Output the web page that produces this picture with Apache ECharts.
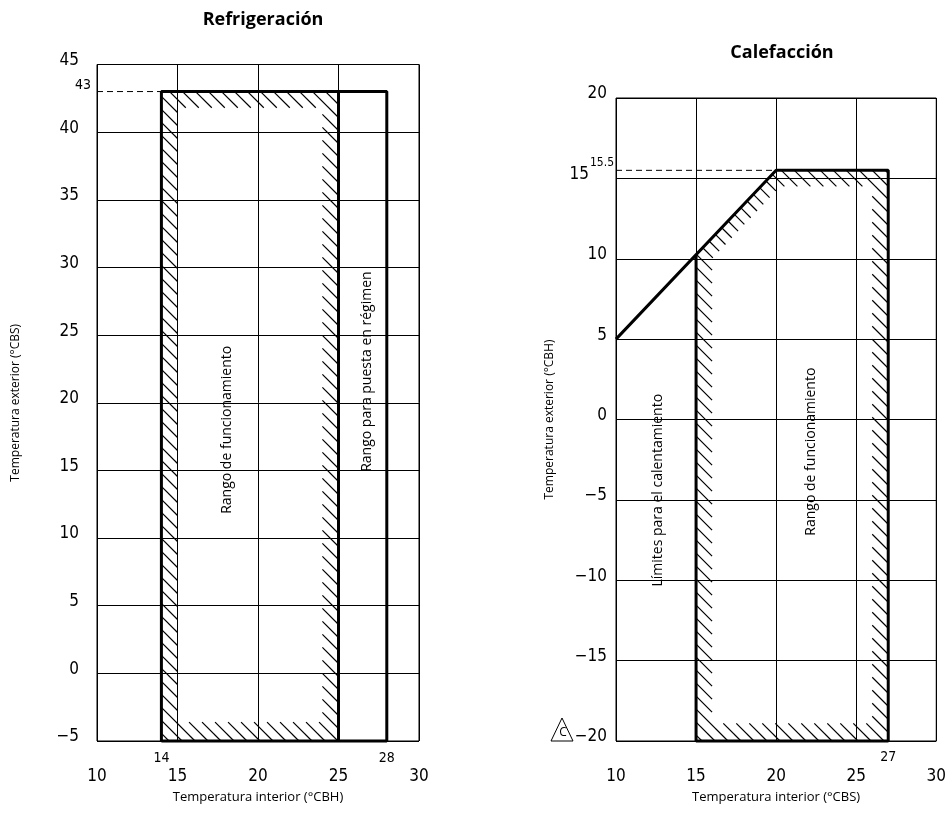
<!DOCTYPE html>
<html>
<head>
<meta charset="utf-8">
<script src="https://cdn.jsdelivr.net/npm/echarts@6/dist/echarts.min.js"></script>
<style>
  html, body { margin: 0; padding: 0; background: #fff; }
  #chart { width: 949px; height: 815px; }
</style>
</head>
<body>
<div id="chart"></div>
<script>
// axis ranges
var xRange = [10, 30];
var coolYRange = [-5, 45];
var heatYRange = [-20, 20];

// Refrigeración: outer limits (run-up range) and operating range with hatch band
var coolRunUp = [[14, -5], [14, 43], [28, 43], [28, -5], [14, -5]];
var coolOpEdge = [[25, 43], [25, -5]];
var coolMaxDash = [[10, 43], [14, 43]];
var coolOuter = [[14, -5], [14, 43], [25, 43], [25, -5]];
var coolInner = [[15, -3.6], [15, 41.8], [24, 41.8], [24, -3.6]];

// Calefacción
var heatLimit = [[10, 5], [20, 15.5], [27, 15.5], [27, -20], [15, -20], [15, 10.25]];
var heatMaxDash = [[10, 15.5], [20, 15.5]];
var heatOuter = [[15, -20], [15, 10.25], [20, 15.5], [27, 15.5], [27, -20]];
var heatInner = [[16, -18.9], [16, 10.0], [20.25, 14.5], [26, 14.5], [26, -18.9]];

var tickFont = "'DejaVu Sans Condensed'";
var textFont = "'Open Sans'";

// clip the line p0 + t*d to a convex polygon (pixels)
function clipConvex(p0, d, poly) {
    var n = poly.length, cx = 0, cy = 0;
    poly.forEach(function(p) { cx += p[0] / n; cy += p[1] / n; });
    var t0 = -Infinity, t1 = Infinity;
    for (var i = 0; i < n; i++) {
        var a = poly[i], b = poly[(i + 1) % n];
        var nx = -(b[1] - a[1]), ny = b[0] - a[0];
        if (nx * (cx - a[0]) + ny * (cy - a[1]) < 0) { nx = -nx; ny = -ny; }
        var num = nx * (p0[0] - a[0]) + ny * (p0[1] - a[1]);
        var den = nx * d[0] + ny * d[1];
        if (den === 0) {
            if (num < 0) return null;
        } else {
            var t = -num / den;
            if (den > 0) t0 = Math.max(t0, t); else t1 = Math.min(t1, t);
        }
    }
    return t0 < t1 ? [t0, t1] : null;
}

function hatchRender(outer, inner) {
    return function(params, api) {
        var po = outer.map(function(p) { return api.coord(p); });
        var pi = inner.map(function(p) { return api.coord(p); });
        var xs = po.map(function(p) { return p[0]; }), ys = po.map(function(p) { return p[1]; });
        var cMin = Math.min.apply(null, xs) - Math.max.apply(null, ys);
        var cMax = Math.max.apply(null, xs) - Math.min.apply(null, ys);
        var d = [1, 1], step = 13, children = [];
        var start = Math.floor(cMin / step) * step;
        for (var c = start; c <= cMax; c += step) {
            var p0 = [c, 0];
            var so = clipConvex(p0, d, po);
            if (!so) continue;
            var si = clipConvex(p0, d, pi);
            var parts = [];
            if (!si || si[1] <= so[0] || si[0] >= so[1]) {
                parts.push(so);
            } else {
                if (si[0] > so[0]) parts.push([so[0], si[0]]);
                if (si[1] < so[1]) parts.push([si[1], so[1]]);
            }
            parts.forEach(function(s) {
                if (s[1] - s[0] < 0.5) return;
                children.push({
                    type: 'line',
                    shape: { x1: p0[0] + s[0], y1: s[0], x2: p0[0] + s[1], y2: s[1] },
                    style: { stroke: '#000', lineWidth: 1.2 }
                });
            });
        }
        return { type: 'group', children: children };
    };
}

// text notes: [x, y, text, rotate, dx, dy, size, align, font]
function notesRender(notes) {
    return function(params, api) {
        var children = notes.map(function(n) {
            var pt = api.coord([n[0], n[1]]);
            return {
                type: 'text',
                x: pt[0] + (n[4] || 0),
                y: pt[1] + (n[5] || 0),
                rotation: n[3] ? Math.PI / 2 : 0,
                style: {
                    text: n[2],
                    fill: '#000',
                    font: (n[6] || 14) + 'px ' + (n[8] || textFont),
                    align: n[7] || 'center',
                    verticalAlign: 'middle'
                }
            };
        });
        return { type: 'group', children: children };
    };
}

var coolNotes = [
    [18.1, 18, 'Rango de funcionamiento', true],
    [26.8, 22.3, 'Rango para puesta en régimen', true],
    [14, -5, '14', false, 0, 17, 14, 'center', tickFont],
    [28, -5, '28', false, 0, 17, 14, 'center', tickFont],
    [10, 43, '43', false, -6, -6, 14, 'right', tickFont]
];
var heatNotes = [
    [12.6, -4.4, 'Límites para el calentamiento', true],
    [22.2, -2.0, 'Rango de funcionamiento', true],
    [27, -20, '27', false, 0, 16, 14, 'center', tickFont],
    [10, 15.5, '15.5', false, -2, -7, 12, 'right', tickFont]
];

function minusFmt(v) { return String(v).replace('-', '\u2212'); }

function xAxisCfg(idx, name) {
    return {
        type: 'value', gridIndex: idx, min: xRange[0], max: xRange[1], interval: 5,
        name: name, nameLocation: 'middle', nameGap: 50,
        nameTextStyle: { fontFamily: textFont, fontSize: 13, color: '#000' },
        axisLine: { show: false }, axisTick: { show: false },
        axisLabel: { margin: 27, fontFamily: tickFont, fontSize: 17, color: '#000', formatter: minusFmt },
        splitLine: { lineStyle: { color: '#000', width: 1 } }
    };
}
function yAxisCfg(idx, range, name, gap, margin, shifted) {
    return {
        type: 'value', gridIndex: idx, min: range[0], max: range[1], interval: 5,
        name: name, nameLocation: 'middle', nameGap: gap,
        nameTextStyle: { fontFamily: textFont, fontSize: 12, color: '#000' },
        axisLine: { show: false }, axisTick: { show: false },
        axisLabel: { margin: margin, fontFamily: tickFont, fontSize: 17, color: '#000',
            verticalAlign: 'bottom', lineHeight: 8,
            formatter: function(v) {
                return v === shifted ? '{s|' + minusFmt(v) + '}' : minusFmt(v);
            },
            rich: { s: { fontFamily: tickFont, fontSize: 17, color: '#000', lineHeight: 8, padding: [0, 18, 0, 0] } } },
        splitLine: { lineStyle: { color: '#000', width: 1 } }
    };
}

function lineSeries(data, xi, width, dash) {
    return {
        type: 'line', xAxisIndex: xi, yAxisIndex: xi, data: data,
        symbol: 'none', clip: false, silent: true,
        lineStyle: { color: '#000', width: width, type: dash || 'solid' }
    };
}

var chart = echarts.init(document.getElementById('chart'), null, { renderer: 'canvas' });
chart.setOption({
    animation: false,
    backgroundColor: '#fff',
    title: [
        { text: 'Refrigeración', left: 258, top: 6, textAlign: 'center',
          textStyle: { fontFamily: textFont, fontSize: 18, fontWeight: 'bold', color: '#000' } },
        { text: 'Calefacción', left: 777, top: 39, textAlign: 'center',
          textStyle: { fontFamily: textFont, fontSize: 18, fontWeight: 'bold', color: '#000' } }
    ],
    grid: [
        { left: 97, top: 64.5, width: 322, height: 676.5, show: true, borderColor: '#000', borderWidth: 1 },
        { left: 616, top: 98, width: 322, height: 643, show: true, borderColor: '#000', borderWidth: 1 }
    ],
    xAxis: [
        xAxisCfg(0, 'Temperatura interior (°CBH)'),
        xAxisCfg(1, 'Temperatura interior (°CBS)')
    ],
    yAxis: [
        yAxisCfg(0, coolYRange, 'Temperatura exterior (°CBS)', 75, 18, null),
        yAxisCfg(1, heatYRange, 'Temperatura exterior (°CBH)', 60, 9, 15)
    ],
    graphic: [
        { type: 'polygon', shape: { points: [[562, 718], [551, 741], [573, 741]] },
          style: { fill: 'none', stroke: '#000', lineWidth: 1 } },
        { type: 'text', x: 563, y: 733, style: { text: 'C', font: '12px ' + textFont,
          fill: '#000', align: 'center', verticalAlign: 'middle' } }
    ],
    series: [
        { type: 'custom', xAxisIndex: 0, yAxisIndex: 0, data: [coolOuter[0]], silent: true,
          renderItem: hatchRender(coolOuter, coolInner) },
        lineSeries(coolRunUp, 0, 3),
        lineSeries(coolOpEdge, 0, 3),
        lineSeries(coolMaxDash, 0, 1, [6, 4]),
        { type: 'custom', xAxisIndex: 0, yAxisIndex: 0, data: [coolOuter[0]], silent: true,
          renderItem: notesRender(coolNotes) },

        { type: 'custom', xAxisIndex: 1, yAxisIndex: 1, data: [heatOuter[0]], silent: true,
          renderItem: hatchRender(heatOuter, heatInner) },
        lineSeries(heatLimit, 1, 3),
        lineSeries(heatMaxDash, 1, 1, [6, 4]),
        { type: 'custom', xAxisIndex: 1, yAxisIndex: 1, data: [heatOuter[0]], silent: true,
          renderItem: notesRender(heatNotes) }
    ]
});
</script>
</body>
</html>
